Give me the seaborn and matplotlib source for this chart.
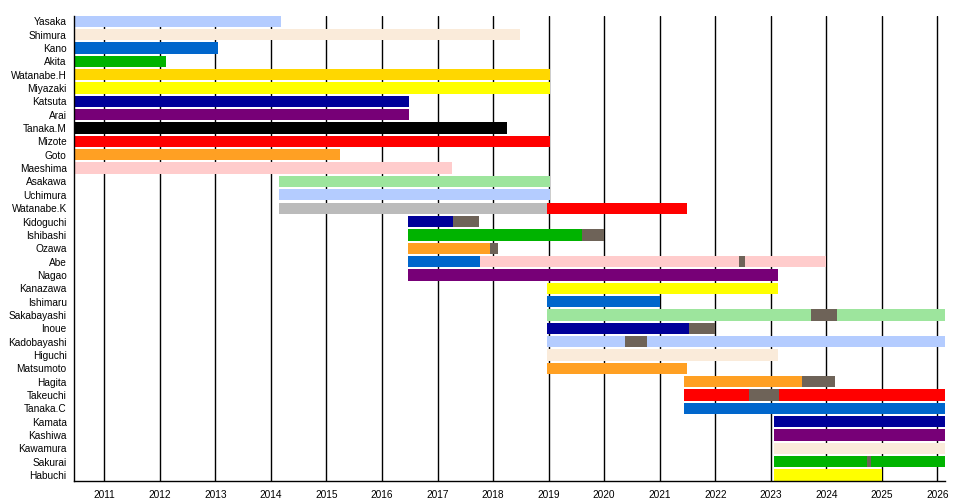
import matplotlib
matplotlib.use("Agg")
import matplotlib.pyplot as plt
import matplotlib.dates as mdates
import numpy as np
import pandas as pd
import seaborn as sns

# 成员顺序（自上而下）
members = ["Yasaka", "Shimura", "Kano", "Akita", "Watanabe.H", "Miyazaki", "Katsuta",
           "Arai", "Tanaka.M", "Mizote", "Goto", "Maeshima", "Asakawa", "Uchimura",
           "Watanabe.K", "Kidoguchi", "Ishibashi", "Ozawa", "Abe", "Nagao", "Kanazawa",
           "Ishimaru", "Sakabayashi", "Inoue", "Kadobayashi", "Higuchi", "Matsumoto",
           "Hagita", "Takeuchi", "Tanaka.C", "Kamata", "Kashiwa", "Kawamura", "Sakurai",
           "Habuchi"]

# 时间轴范围
start_date = "2010-06-18"
end_date = "2026-02-20"

# 每段条形：成员、开始、结束、颜色名
seg_member = ["Yasaka", "Shimura", "Kano", "Akita", "Watanabe.H", "Miyazaki", "Katsuta",
              "Arai", "Tanaka.M", "Mizote", "Goto", "Maeshima", "Asakawa", "Uchimura",
              "Watanabe.K", "Watanabe.K",
              "Kidoguchi", "Kidoguchi",
              "Ishibashi", "Ishibashi",
              "Ozawa", "Ozawa",
              "Abe", "Abe", "Abe", "Abe",
              "Nagao", "Kanazawa", "Ishimaru",
              "Sakabayashi", "Sakabayashi", "Sakabayashi",
              "Inoue", "Inoue",
              "Kadobayashi", "Kadobayashi", "Kadobayashi",
              "Higuchi", "Matsumoto",
              "Hagita", "Hagita",
              "Takeuchi", "Takeuchi", "Takeuchi",
              "Tanaka.C", "Kamata", "Kashiwa", "Kawamura",
              "Sakurai", "Sakurai", "Sakurai",
              "Habuchi"]
seg_start = ["2010-06-18", "2010-06-18", "2010-06-18", "2010-06-18", "2010-06-18",
             "2010-06-18", "2010-06-18", "2010-06-18", "2010-06-18", "2010-06-18",
             "2010-06-18", "2010-06-18", "2014-02-26", "2014-02-26",
             "2014-02-26", "2018-12-20",
             "2016-06-23", "2017-04-11",
             "2016-06-23", "2019-08-08",
             "2016-06-23", "2017-12-15",
             "2016-06-23", "2017-10-06", "2022-06-05", "2022-07-15",
             "2016-06-23", "2018-12-20", "2018-12-20",
             "2018-12-20", "2023-09-25", "2024-03-09",
             "2018-12-20", "2021-07-14",
             "2018-12-20", "2020-05-16", "2020-10-08",
             "2018-12-20", "2018-12-20",
             "2021-06-12", "2023-07-28",
             "2021-06-12", "2022-08-14", "2023-02-27",
             "2021-06-12", "2023-01-25", "2023-01-25", "2023-01-25",
             "2023-01-25", "2024-09-23", "2024-10-19",
             "2023-01-25"]
seg_end = ["2014-03-05", "2018-06-30", "2013-01-17", "2012-02-14", "2019-01-12",
           "2019-01-12", "2016-06-30", "2016-06-30", "2018-04-05", "2019-01-12",
           "2015-03-31", "2017-04-05", "2019-01-12", "2019-01-12",
           "2018-12-20", "2021-07-01",
           "2017-04-11", "2017-09-28",
           "2019-08-08", "2020-01-01",
           "2017-12-15", "2018-02-03",
           "2017-10-06", "2022-06-05", "2022-07-15", "2023-12-28",
           "2023-02-18", "2023-02-18", "2021-01-01",
           "2023-09-25", "2024-03-09", "2026-02-20",
           "2021-07-14", "2022-01-01",
           "2020-05-16", "2020-10-08", "2026-02-20",
           "2023-02-18", "2021-07-01",
           "2023-07-28", "2024-02-27",
           "2022-08-14", "2023-02-27", "2026-02-20",
           "2026-02-20", "2026-02-20", "2026-02-20", "2026-02-20",
           "2024-09-23", "2024-10-19", "2026-02-20",
           "2025-01-05"]
seg_colour = ["lightblue", "linen", "blue", "green", "gold", "yellow", "navy",
              "purple", "black", "red", "orange", "pink", "lightgreen", "lightblue",
              "grey", "red",
              "navy", "hiatus",
              "green", "hiatus",
              "orange", "hiatus",
              "blue", "pink", "hiatus", "pink",
              "purple", "yellow", "blue",
              "lightgreen", "hiatus", "lightgreen",
              "navy", "hiatus",
              "lightblue", "hiatus", "lightblue",
              "linen", "orange",
              "orange", "hiatus",
              "red", "hiatus", "red",
              "blue", "navy", "purple", "linen",
              "green", "hiatus", "green",
              "yellow"]

palette = {
    "lightblue": "#B4CCFF", "linen": "#FAEBDA", "blue": "#0066CC", "green": "#00B300",
    "gold": "#FFD700", "yellow": "#FFFF00", "navy": "#000099", "purple": "#770077",
    "black": "#000000", "red": "#FF0000", "orange": "#FFA023", "pink": "#FFCCCC",
    "lightgreen": "#9DE59D", "grey": "#BBBBBB", "hiatus": "#6E6358",
}

sns.set_style("white")
plt.rcParams['font.family'] = ['Liberation Sans', 'DejaVu Sans']

df = pd.DataFrame({"member": seg_member,
                   "start": pd.to_datetime(seg_start),
                   "end": pd.to_datetime(seg_end),
                   "colour": seg_colour})
df["row"] = df["member"].map({m: i for i, m in enumerate(members)})
df["left"] = mdates.date2num(df["start"])
df["width"] = mdates.date2num(df["end"]) - df["left"]

fig = plt.figure(figsize=(9.68, 5.0), dpi=100)
ax = fig.add_axes([0.0768, 0.0386, 0.8994, 0.93])

bar_h = 0.85
ax.barh(df["row"], df["width"], left=df["left"], height=bar_h,
        color=[palette[c] for c in df["colour"]], linewidth=0, zorder=2)

# 年份网格线
years = pd.date_range("2011-01-01", "2026-01-01", freq="YS")
for y in years:
    ax.axvline(mdates.date2num(y), color="black", linewidth=1.0, zorder=1)

ax.set_xlim(mdates.date2num(pd.Timestamp(start_date)), mdates.date2num(pd.Timestamp(end_date)))
ax.set_ylim(len(members) - 1 + bar_h / 2, -bar_h / 2)

ax.set_yticks(np.arange(len(members)))
ax.set_yticklabels(members, fontsize=7.3, color="black")
ax.set_xticks(mdates.date2num(years))
ax.set_xticklabels([str(y.year) for y in years], fontsize=7.3, color="black")
ax.tick_params(axis="y", length=0, pad=5.5)
ax.tick_params(axis="x", length=3.5, width=1, color="black", direction="out", pad=3)

sns.despine(ax=ax, top=True, right=True)
for side in ["left", "bottom"]:
    ax.spines[side].set_color("black")
    ax.spines[side].set_linewidth(1.0)

fig.savefig("out.png", dpi=100)
